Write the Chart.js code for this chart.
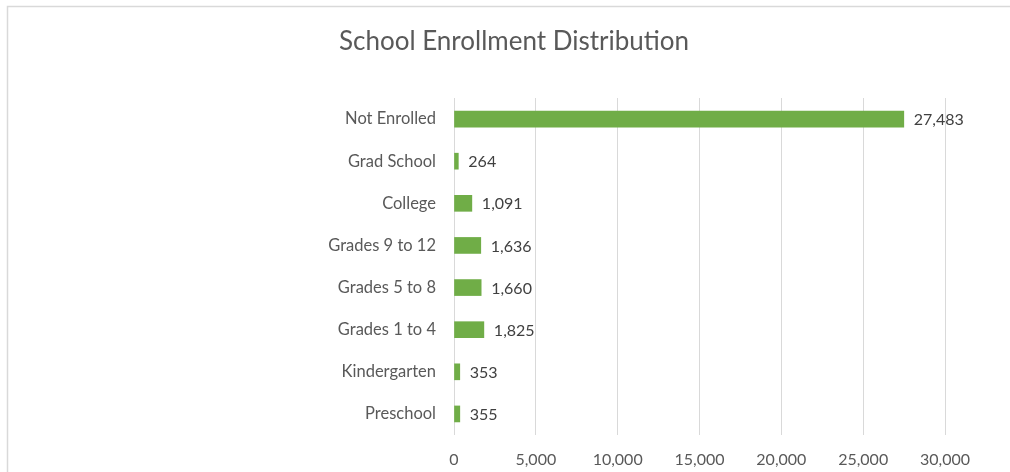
<!DOCTYPE html>
<html>
<head>
<meta charset="utf-8">
<script src="https://cdn.jsdelivr.net/npm/chart.js@4"></script>
<style>
  html, body { margin: 0; padding: 0; background: #fff; overflow: hidden; }
  #wrap { width: 1010px; height: 472px; }
</style>
</head>
<body>
<div id="wrap"><canvas id="chart1" width="1010" height="472"></canvas></div>
<script>
// School Enrollment Distribution
const categories = ['Not Enrolled', 'Grad School', 'College', 'Grades 9 to 12', 'Grades 5 to 8', 'Grades 1 to 4', 'Kindergarten', 'Preschool'];
const enrollment = [27483, 264, 1091, 1636, 1660, 1825, 353, 355];
const xTicks = [0, 5000, 10000, 15000, 20000, 25000, 30000];
const chartTitle = 'School Enrollment Distribution';

const FONT = 'Lato, "Noto Sans", sans-serif';

// frame + title (title is centred on the whole canvas, like the original)
const framePlugin = {
    id: 'frame',
    beforeDraw(chart) {
        const ctx = chart.ctx;
        ctx.save();
        ctx.strokeStyle = '#d9d9d9';
        ctx.lineWidth = 1.5;
        ctx.strokeRect(7.5, 6.5, 1200, 600);
        ctx.font = '26px ' + FONT;
        ctx.fillStyle = '#595959';
        ctx.textAlign = 'center';
        ctx.textBaseline = 'middle';
        ctx.fillText(chartTitle, 514, 42);
        ctx.restore();
    }
};

// value labels after each bar
const valueLabels = {
    id: 'valueLabels',
    afterDatasetsDraw(chart) {
        const ctx = chart.ctx;
        const meta = chart.getDatasetMeta(0);
        ctx.save();
        ctx.font = '16px ' + FONT;
        ctx.fillStyle = '#404040';
        ctx.textBaseline = 'middle';
        ctx.textAlign = 'left';
        meta.data.forEach(function (bar, i) {
            ctx.fillText(enrollment[i].toLocaleString('en-US'), bar.x + 10, bar.y + 1);
        });
        ctx.restore();
    }
};

const ctx = document.getElementById('chart1').getContext('2d');
const chart1 = new Chart(ctx, {
    type: 'bar',
    data: {
        labels: categories,
        datasets: [{
            label: 'Enrollment',
            data: enrollment,
            backgroundColor: '#70ad47',
            borderWidth: 0,
            barThickness: 16,
        }]
    },
    options: {
        indexAxis: 'y',
        responsive: false,
        animation: false,
        layout: {
            padding: { top: 98, right: 65, bottom: 3, left: 0 }
        },
        plugins: {
            legend: { display: false },
            tooltip: { enabled: false },
            title: { display: false }
        },
        scales: {
            x: {
                min: 0,
                max: 30000,
                afterBuildTicks: function (axis) {
                    axis.ticks = xTicks.map(v => ({ value: v }));
                },
                afterFit: function (axis) {
                    axis.height = 34;
                },
                grid: {
                    color: '#d9d9d9',
                    lineWidth: 1,
                    drawTicks: false
                },
                border: { display: false },
                ticks: {
                    color: '#595959',
                    padding: 15,
                    font: { family: FONT, size: 16 },
                    maxRotation: 0,
                    callback: function (value) {
                        return value.toLocaleString('en-US');
                    }
                }
            },
            y: {
                grid: { display: false, drawTicks: false },
                border: { display: false },
                afterFit: function (axis) {
                    axis.width = 454;
                },
                ticks: {
                    color: '#595959',
                    padding: 18,
                    font: { family: FONT, size: 16.5 }
                }
            }
        }
    },
    plugins: [framePlugin, valueLabels]
});
</script>
</body>
</html>
